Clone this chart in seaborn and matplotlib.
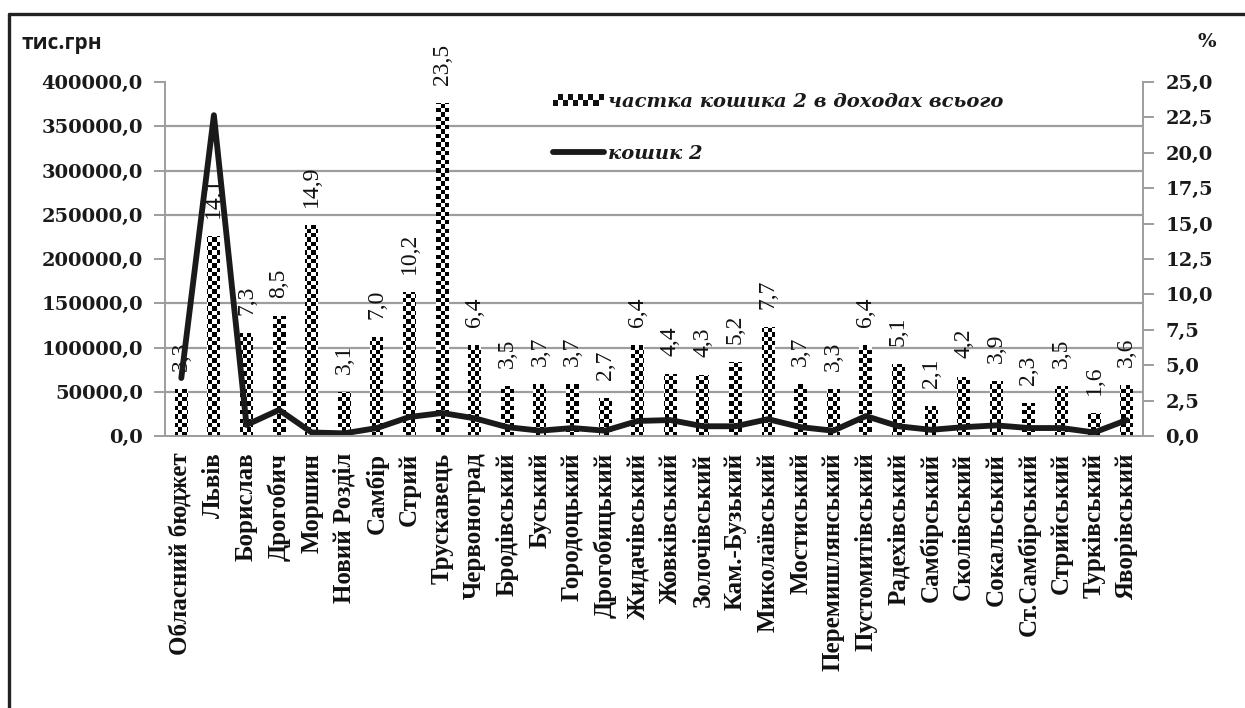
import numpy as np
import pandas as pd
import matplotlib
matplotlib.use("Agg")
import matplotlib.pyplot as plt
import seaborn as sns
from matplotlib.path import Path
from matplotlib.patches import Patch, Rectangle
from matplotlib.lines import Line2D
from matplotlib.legend_handler import HandlerBase
from matplotlib.ticker import FuncFormatter, FixedLocator

# Budgets (categories on the x axis)
categories = [
    "Обласний бюджет", "Львів", "Борислав", "Дрогобич", "Моршин", "Новий Розділ",
    "Самбір", "Стрий", "Трускавець", "Червоноград", "Бродівський", "Буський",
    "Городоцький", "Дрогобицький", "Жидачівський", "Жовківський", "Золочівський",
    "Кам.-Бузький", "Миколаївський", "Мостиський", "Перемишлянський",
    "Пустомитівський", "Радехівський", "Самбірський", "Сколівський", "Сокальський",
    "Ст.Самбірський", "Стрийський", "Турківський", "Яворівський",
]

# Share of basket 2 in total revenues, %
share_pct = [3.3, 14.1, 7.3, 8.5, 14.9, 3.1, 7.0, 10.2, 23.5, 6.4, 3.5, 3.7, 3.7,
             2.7, 6.4, 4.4, 4.3, 5.2, 7.7, 3.7, 3.3, 6.4, 5.1, 2.1, 4.2, 3.9,
             2.3, 3.5, 1.6, 3.6]

# Basket 2, thousand UAH
basket_2 = [65500, 362500, 12500, 29500, 4000, 3000, 9000, 21500, 26000, 20000,
            10000, 6000, 9000, 6000, 17000, 18000, 11000, 11000, 19000, 10000,
            6000, 22500, 11000, 7000, 10000, 12000, 9000, 9000, 4000, 18000]

left_ticks = np.arange(0, 400001, 50000)
right_ticks = np.arange(0, 25.01, 2.5)

bar_label_name = "частка кошика 2 в доходах всього"
line_label_name = "кошик 2"

sns.set_style("white")
plt.rcParams["font.family"] = ["DejaVu Serif"]

df = pd.DataFrame({"budget": categories, "share": share_pct, "basket": basket_2,
                   "pos": np.arange(len(categories))})

W, H = 1245, 708
fig = plt.figure(figsize=(W / 100, H / 100), dpi=100)
ax1 = fig.add_axes([165 / W, 1 - 436 / H, (1143 - 165) / W, (436 - 82) / H])
ax2 = ax1.twinx()

GRID = "#9d9d9d"
INK = "#1a1a1a"
n = len(categories)
LEFT_MAX, RIGHT_MAX = 400000, 25

# Bars: share in %, right axis
sns.barplot(data=df, x="pos", y="share", ax=ax2, color="white", width=0.4,
            edgecolor="none", linewidth=0, saturation=1, native_scale=True)
bars = list(ax2.containers[0])

# Checkerboard texture clipped to the bars
cell_px = 4.3
ncol = int(round(978 / cell_px))
nrow = int(round(354 / cell_px))
ii, jj = np.indices((nrow, ncol))
checker = ((ii + jj) % 2).astype(float)
im = ax2.imshow(checker, cmap="gray", vmin=0, vmax=1,
                extent=(-0.5, n - 0.5, 0, RIGHT_MAX),
                interpolation="nearest", aspect="auto", zorder=3, origin="lower")
bar_paths = [p.get_path().transformed(p.get_patch_transform()) for p in bars]
im.set_clip_path(Path.make_compound_path(*bar_paths), ax2.transData)

ax2.bar_label(ax2.containers[0],
              labels=[f"{v:.1f}".replace(".", ",") for v in share_pct],
              rotation=90, padding=13, fontsize=17, family="Liberation Serif",
              color="#111111", zorder=4)

# Line: basket 2 in thousand UAH, left axis
sns.lineplot(data=df, x="pos", y="basket", ax=ax1, color=INK, linewidth=4.2,
             sort=False, legend=False)

ax1.set_zorder(ax2.get_zorder() + 1)
ax1.patch.set_visible(False)

ax1.set_xlim(-0.5, n - 0.5)
ax2.set_xlim(-0.5, n - 0.5)
ax1.set_ylim(0, LEFT_MAX)
ax2.set_ylim(0, RIGHT_MAX)

fmt = FuncFormatter(lambda v, _: f"{v:.1f}".replace(".", ","))
ax1.set_yticks(left_ticks)
ax2.set_yticks(right_ticks)
ax1.yaxis.set_major_formatter(fmt)
ax2.yaxis.set_major_formatter(fmt)

# Horizontal grid follows the left scale but sits behind the bars
ax1.grid(False)
ax2.grid(False)
ax2.yaxis.set_minor_locator(FixedLocator(left_ticks * RIGHT_MAX / LEFT_MAX))
ax2.grid(axis="y", which="minor", color=GRID, linewidth=1.6)
ax2.tick_params(axis="y", which="minor", length=0)
ax2.set_axisbelow(True)

ax1.set_xticks(np.arange(n))
ax1.set_xticklabels(categories, rotation=90, fontsize=18, fontweight="bold",
                    family="Liberation Serif", color="#111111")
ax1.xaxis.set_minor_locator(FixedLocator(np.arange(n + 1) - 0.5))
ax1.tick_params(axis="x", which="major", length=0, pad=12)
ax1.tick_params(axis="x", which="minor", length=7, width=1.4, color=GRID)

for a in (ax1, ax2):
    a.tick_params(axis="y", which="major", length=8, width=1.4, color=GRID,
                  labelsize=14, pad=8, labelcolor=INK)
    for lab in a.get_yticklabels():
        lab.set_fontweight("bold")
    a.set_xlabel("")
    a.set_ylabel("")
    for s in a.spines.values():
        s.set_color(GRID)
        s.set_linewidth(1.4)
    a.spines["top"].set_visible(False)
ax1.spines["right"].set_visible(False)
ax2.spines["left"].set_visible(False)


class CheckerHandler(HandlerBase):
    def create_artists(self, legend, orig_handle, xdescent, ydescent, width, height,
                       fontsize, trans):
        cols, rows = 10, 2
        h = height * 0.85
        y0 = -ydescent + (height - h) / 2
        cw, ch = width / cols, h / rows
        arts = []
        for r in range(rows):
            for c in range(cols):
                col = "#111111" if (r + c) % 2 == 0 else "white"
                arts.append(Rectangle((-xdescent + c * cw, y0 + r * ch), cw, ch,
                                      facecolor=col, edgecolor="none", transform=trans))
        return arts


handles = [Patch(facecolor="black", label=bar_label_name),
           Line2D([], [], color=INK, linewidth=4.2, label=line_label_name)]
leg = ax1.legend(handles=handles, loc="upper left",
                 bbox_to_anchor=(553 / W, 1 - 93 / H), bbox_transform=fig.transFigure,
                 frameon=False, handler_map={Patch: CheckerHandler()},
                 prop={"family": "DejaVu Serif", "weight": "bold", "style": "italic",
                       "size": 14},
                 handlelength=2.6, handletextpad=0.25, labelspacing=1.75,
                 borderpad=0, borderaxespad=0)
for t in leg.get_texts():
    t.set_color(INK)

# Axis captions
fig.text(22 / W, 1 - 43 / H, "тис.грн", family="Open Sans", fontweight="bold",
         fontsize=15, va="center", ha="left", color=INK)
fig.text(1207 / W, 1 - 42 / H, "%", family="DejaVu Serif", fontweight="bold",
         fontsize=14, va="center", ha="center", color=INK)

# Outer frame (left and top edges)
fig.add_artist(Line2D([9 / W, 9 / W], [0, 1 - 14 / H], transform=fig.transFigure,
                      color="#222222", linewidth=2.4))
fig.add_artist(Line2D([9 / W, 1], [1 - 14 / H, 1 - 14 / H], transform=fig.transFigure,
                      color="#222222", linewidth=2.4))

fig.savefig("out.png", dpi=100)
